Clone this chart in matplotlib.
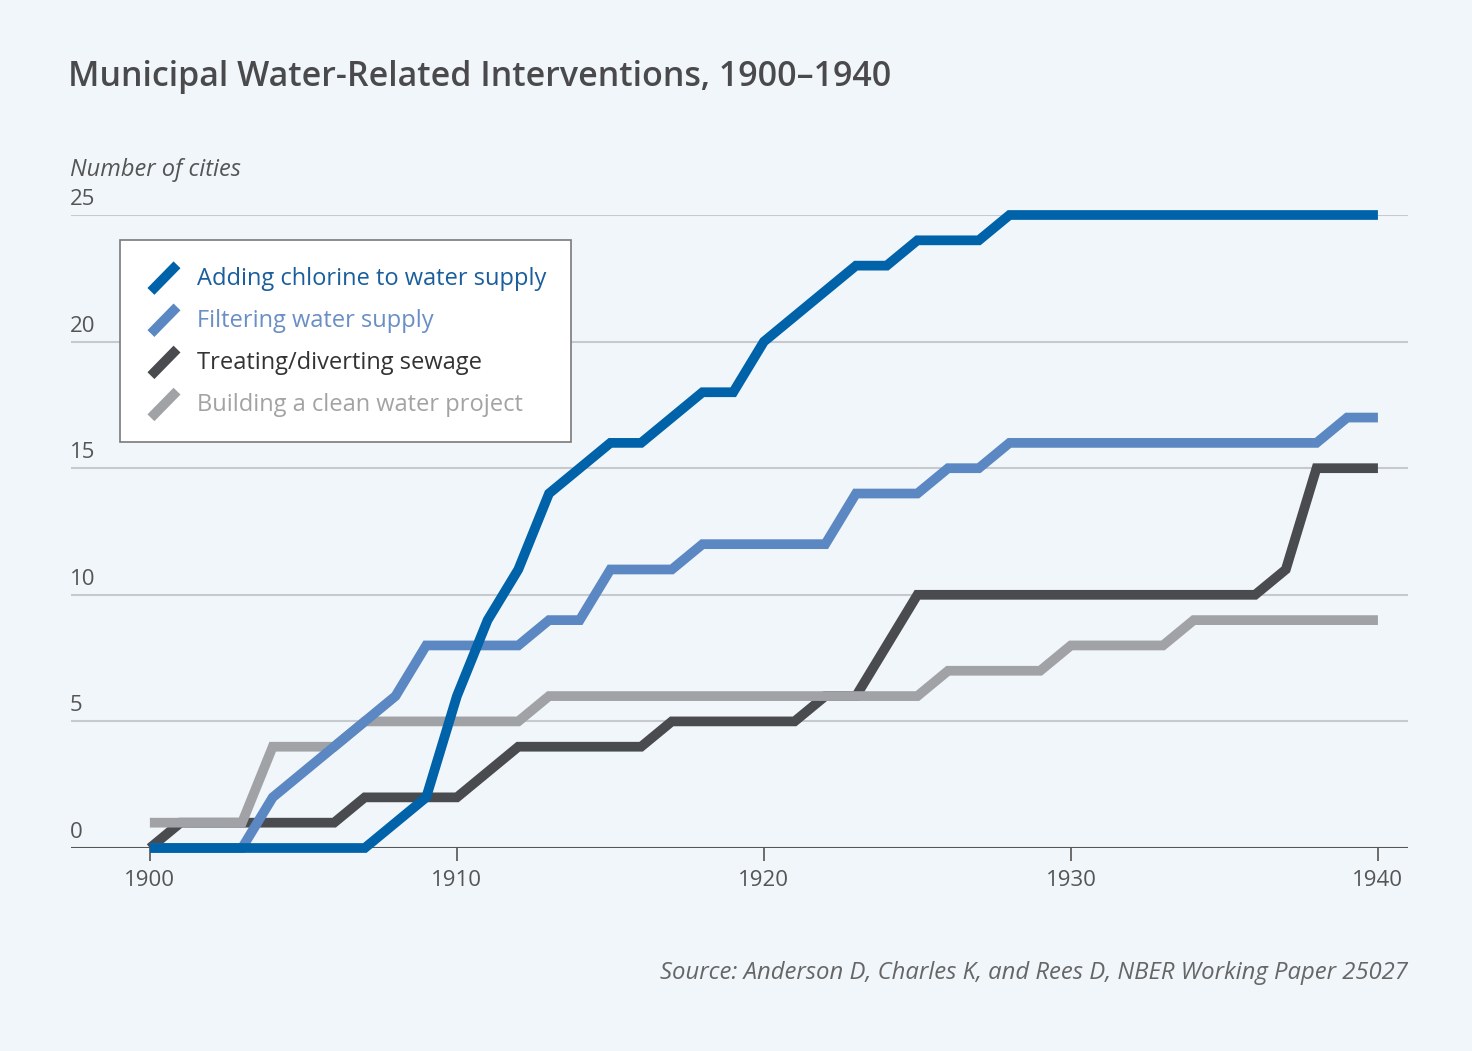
import matplotlib.pyplot as plt
from matplotlib.lines import Line2D
from matplotlib.legend_handler import HandlerBase
from matplotlib.transforms import blended_transform_factory

# data (number of cities per year)
years = list(range(1900, 1941))
chlorine = [0, 0, 0, 0, 0, 0, 0, 0, 1, 2, 6, 9, 11, 14, 15, 16, 16, 17, 18, 18,
            20, 21, 22, 23, 23, 24, 24, 24, 25, 25, 25, 25, 25, 25, 25, 25, 25, 25, 25, 25, 25]
filtering = [0, 0, 0, 0, 2, 3, 4, 5, 6, 8, 8, 8, 8, 9, 9, 11, 11, 11, 12, 12,
             12, 12, 12, 14, 14, 14, 15, 15, 16, 16, 16, 16, 16, 16, 16, 16, 16, 16, 16, 17, 17]
sewage = [0, 1, 1, 1, 1, 1, 1, 2, 2, 2, 2, 3, 4, 4, 4, 4, 4, 5, 5, 5,
          5, 5, 6, 6, 8, 10, 10, 10, 10, 10, 10, 10, 10, 10, 10, 10, 10, 11, 15, 15, 15]
clean_water = [1, 1, 1, 1, 4, 4, 4, 5, 5, 5, 5, 5, 5, 6, 6, 6, 6, 6, 6, 6,
               6, 6, 6, 6, 6, 6, 7, 7, 7, 7, 8, 8, 8, 8, 9, 9, 9, 9, 9, 9, 9]

labels = ["Adding chlorine to water supply", "Filtering water supply",
          "Treating/diverting sewage", "Building a clean water project"]
line_colors = ["#0062a8", "#5b87c2", "#4a4b4e", "#a0a2a5"]
text_colors = ["#1a5e9c", "#6a8fc4", "#333333", "#a3a3a3"]
yticks = [0, 5, 10, 15, 20, 25]
xticks = [1900, 1910, 1920, 1930, 1940]

bg = "#f1f6fa"
plt.rcParams['font.family'] = ['Open Sans', 'DejaVu Sans']


# slanted legend marks like in the original
class SlashHandler(HandlerBase):
    def create_artists(self, legend, orig_handle, xdescent, ydescent, width, height, fontsize, trans):
        x0, y0 = -xdescent, -ydescent
        ln = Line2D([x0 + 0.2 * width, x0 + 1.05 * width], [y0 - 0.1 * height, y0 + 1.0 * height])
        self.update_prop(ln, orig_handle, legend)
        ln.set_transform(trans)
        return [ln]


fig = plt.figure(figsize=(14.72, 10.51), dpi=100, facecolor=bg)
ax = fig.add_axes([71 / 1472, 1 - 848 / 1051, (1408 - 71) / 1472, (848 - 215) / 1051])
ax.set_facecolor(bg)

# gridlines
for v in yticks[1:]:
    ax.axhline(v, color="#c6cacf", lw=1.5, zorder=1)
ax.axhline(0, color="#555555", lw=1.5, zorder=1)

series = [chlorine, filtering, sewage, clean_water]
handles = []
zorders = [6, 5, 3, 4]
for vals, c, lab, z in zip(series, line_colors, labels, zorders):
    h, = ax.plot(years, vals, color=c, lw=7, label=lab, zorder=z, clip_on=False,
                 solid_capstyle='butt', solid_joinstyle='miter')
    handles.append(h)

ax.set_xlim(1897.43, 1940.98)
ax.set_ylim(0, 25)
for s in ax.spines.values():
    s.set_visible(False)

ax.set_yticks([])
ax.set_xticks(xticks)
ax.set_xticklabels([str(x) for x in xticks])
ax.tick_params(axis='x', length=9, width=1.2, color="#555555", labelsize=16,
               labelcolor="#555555", pad=7)

# y tick labels sit above the gridlines
tr = blended_transform_factory(fig.transFigure, ax.transData)
for v in yticks:
    ax.text(70 / 1472, v + 0.2, str(v), transform=tr, fontsize=16, color="#555555",
            ha='left', va='bottom')

leg = ax.legend(handles=handles, handler_map={Line2D: SlashHandler()},
                loc='upper left', bbox_to_anchor=(120 / 1472, 1 - 240 / 1051),
                bbox_transform=fig.transFigure, fontsize=17, frameon=True,
                fancybox=False, framealpha=1, facecolor="white", edgecolor="#7a7a7a",
                handlelength=1.3, handleheight=1.2, handletextpad=0.9,
                labelspacing=0.68, borderpad=1.05, borderaxespad=0)
leg.get_frame().set_linewidth(1.2)
leg.set_zorder(10)
for t, c in zip(leg.get_texts(), text_colors):
    t.set_color(c)

fig.text(68 / 1472, 1 - 77 / 1051, "Municipal Water-Related Interventions, 1900\u20131940",
         fontsize=24.5, fontweight='semibold', color="#4a4a4c", ha='left', va='center')
fig.text(70 / 1472, 1 - 170 / 1051, "Number of cities", fontsize=17, style='italic',
         color="#555555", ha='left', va='center')
fig.text(1408 / 1472, 1 - 973 / 1051,
         "Source: Anderson D, Charles K, and Rees D, NBER Working Paper 25027",
         fontsize=17.2, style='italic', color="#666666", ha='right', va='center')

fig.savefig("out.png", dpi=100, facecolor=bg)
